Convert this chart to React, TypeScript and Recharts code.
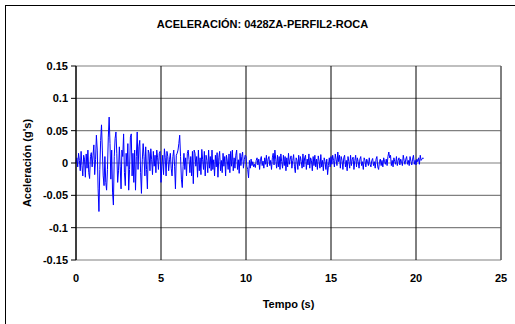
import { LineChart, Line, XAxis, YAxis, CartesianGrid, ReferenceLine, Label } from 'recharts';

// time step of the record (s)
const DT = 0.05;

// acceleration (g's), one row per second of record
const acc00 = [0, 0.008, -0.006, 0.015, 0.004, -0.012, 0.018, -0.004, -0.02, 0.012, 0.006, -0.022, 0.014, -0.008, 0.02, -0.015, -0.024, 0.01, 0.016, -0.006];
const acc01 = [0.012, 0.028, -0.018, 0.005, 0.043, 0.02, -0.04, -0.075, -0.01, 0.035, 0.059, 0.02, -0.02, -0.035, 0.01, -0.03, -0.042, -0.01, 0.04, 0.071];
const acc02 = [0.03, -0.025, 0.02, -0.045, -0.065, 0.01, 0.038, 0.048, 0.015, -0.03, -0.012, 0.025, -0.005, -0.04, 0.02, 0.01, 0.045, -0.015, -0.035, 0.015];
const acc03 = [-0.005, 0.03, -0.042, -0.01, 0.04, 0.045, -0.02, 0.015, -0.03, 0.02, -0.042, 0.01, 0.048, -0.01, 0.025, 0.035, -0.015, -0.047, 0.005, 0.03];
const acc04 = [0.01, -0.02, 0.025, -0.01, -0.04, 0.02, 0.015, -0.012, 0.022, 0.005, -0.018, 0.018, -0.005, 0.012, -0.015, 0.02, 0.008, -0.01, 0.015, 0.018];
const acc05 = [-0.03, -0.005, 0.012, -0.018, 0.022, 0.008, -0.02, 0.018, 0.01, -0.012, 0.005, 0.015, -0.008, -0.02, 0.01, 0.02, -0.005, -0.04, 0.012, 0.015];
const acc06 = [0.02, 0.03, 0.043, 0.01, -0.025, -0.038, -0.005, 0.015, -0.01, 0.008, -0.02, 0.015, 0.02, 0.005, -0.015, 0.01, -0.02, 0.018, -0.032, 0.02];
const acc07 = [0.015, -0.005, 0.01, -0.022, 0.02, -0.012, 0.008, -0.018, 0.021, 0.005, -0.01, 0.018, -0.02, 0.012, 0.004, -0.015, 0.02, -0.008, 0.01, -0.012];
const acc08 = [0.02, -0.01, 0.005, -0.02, 0.012, -0.006, 0.016, -0.022, 0.008, 0.018, -0.012, 0.004, -0.015, 0.015, -0.005, 0.01, -0.02, 0.012, 0.003, -0.01];
const acc09 = [0.014, -0.015, 0.018, -0.005, 0.02, -0.012, 0.008, -0.008, 0.012, 0.02, -0.01, 0.005, -0.016, 0.015, -0.004, 0.01, 0.017, -0.008, 0.005, 0.012];
const acc10 = [0.01, -0.005, -0.01, -0.023, 0.004, -0.008, 0.006, -0.004, 0.002, -0.006, -0.002, -0.007, 0.004, 0.008, -0.003, 0.006, -0.01, 0.005, 0.01, -0.004];
const acc11 = [0.003, -0.008, 0.008, -0.002, 0.012, -0.006, 0.006, 0.01, -0.004, 0.004, -0.01, 0.008, 0.015, -0.003, 0.02, 0.005, -0.008, 0.012, -0.006, 0.01];
const acc12 = [-0.01, 0.014, 0.002, -0.008, 0.012, -0.004, 0.01, -0.012, 0.008, -0.006, 0.015, -0.002, 0.006, 0.011, -0.008, 0.004, 0.013, -0.005, -0.015, 0.008];
const acc13 = [0.004, -0.01, 0.012, -0.004, 0.01, 0.002, -0.008, 0.014, -0.006, 0.008, 0.012, -0.01, 0.006, -0.003, 0.014, -0.008, 0.008, 0.004, -0.012, 0.01];
const acc14 = [-0.004, 0.012, -0.006, 0.006, -0.01, 0.011, 0.003, -0.008, 0.013, -0.006, 0.004, -0.012, 0.008, 0.002, -0.01, 0.006, -0.018, -0.004, 0.008, -0.006];
const acc15 = [0.01, -0.002, 0.012, 0.004, -0.006, 0.014, 0.006, -0.004, 0.017, 0.002, 0.012, -0.008, 0.01, 0.004, -0.01, 0.008, 0.012, -0.006, 0.004, -0.012];
const acc16 = [0.01, 0.002, -0.008, 0.012, -0.004, 0.006, 0.009, -0.01, 0.004, 0.012, -0.006, 0.008, 0.002, -0.008, 0.006, 0.01, -0.004, 0.002, -0.01, 0.008];
const acc17 = [0.004, -0.006, 0.006, 0.002, -0.004, 0.008, -0.002, -0.006, 0.004, 0.007, -0.004, 0.002, -0.008, 0.006, 0.01, -0.006, -0.01, 0.002, 0.006, -0.004];
const acc18 = [0.004, -0.006, 0.008, 0.002, -0.002, 0.006, -0.004, 0.01, 0.017, 0.008, 0.012, -0.004, 0.004, -0.006, 0.008, 0.002, -0.002, 0.01, -0.004, 0.004];
const acc19 = [0.008, -0.003, 0.006, 0.002, -0.004, 0.012, 0.004, -0.002, 0.006, 0.01, -0.002, 0.004, -0.004, 0.01, 0.003, -0.003, 0.006, 0.012, -0.002, 0.004];
const acc20 = [-0.003, 0.006, 0.002, 0.008, -0.002, 0.012, 0.004, 0.006, 0.008, 0.007];

const xTicks = [0, 5, 10, 15, 20, 25];
const yTicks = [-0.15, -0.1, -0.05, 0, 0.05, 0.1, 0.15];

const accel = [
  ...acc00, ...acc01, ...acc02, ...acc03, ...acc04, ...acc05, ...acc06,
  ...acc07, ...acc08, ...acc09, ...acc10, ...acc11, ...acc12, ...acc13,
  ...acc14, ...acc15, ...acc16, ...acc17, ...acc18, ...acc19, ...acc20,
];
const data = accel.map((a, i) => ({ t: +(i * DT).toFixed(2), a }));

const font = 'Arial, "Liberation Sans", sans-serif';
const tickStyle = { fontSize: 11, fontWeight: 700, fill: '#000', fontFamily: font };

export default function App() {
  return (
    <div style={{ position: 'absolute', left: 0, top: 0, width: 515, height: 324, overflow: 'hidden', background: '#fff' }}>
      <div style={{ position: 'absolute', left: 5, top: 5, width: 540, height: 340, border: '1px solid #000' }} />
      <div
        style={{
          position: 'absolute', left: 0, top: 18, width: 525, textAlign: 'center',
          fontFamily: font, fontWeight: 700, fontSize: 11, color: '#000',
        }}
      >
        ACELERACIÓN: 0428ZA-PERFIL2-ROCA
      </div>
      <div style={{ position: 'absolute', left: 0, top: 0 }}>
        <LineChart width={515} height={324} data={data} margin={{ top: 66, right: 14, bottom: 34, left: 26 }}>
          <CartesianGrid horizontal vertical={false} stroke="#808080" strokeWidth={1.2} />
          <CartesianGrid horizontal={false} vertical stroke="#000" />
          <ReferenceLine x={25} stroke="#808080" strokeWidth={1.2} />
          <XAxis
            type="number"
            dataKey="t"
            domain={[0, 25]}
            ticks={xTicks}
            axisLine={false}
            tickLine={false}
            tickSize={0}
            tickMargin={14}
            tick={tickStyle}
            height={30}
          >
            <Label value="Tempo (s)" position="insideBottom" offset={-18} style={{ ...tickStyle }} />
          </XAxis>
          <YAxis
            type="number"
            domain={[-0.15, 0.15]}
            ticks={yTicks}
            axisLine={{ stroke: '#000' }}
            tickLine={{ stroke: '#000' }}
            tickSize={5}
            tickMargin={3}
            tick={tickStyle}
            width={50}
            interval={0}
          >
            <Label value="Aceleración (g's)" angle={-90} position="insideLeft" offset={1} style={{ ...tickStyle, textAnchor: 'middle' }} />
          </YAxis>
          <Line type="linear" dataKey="a" stroke="#0000ff" strokeWidth={1} dot={false} isAnimationActive={false} />
        </LineChart>
      </div>
    </div>
  );
}
